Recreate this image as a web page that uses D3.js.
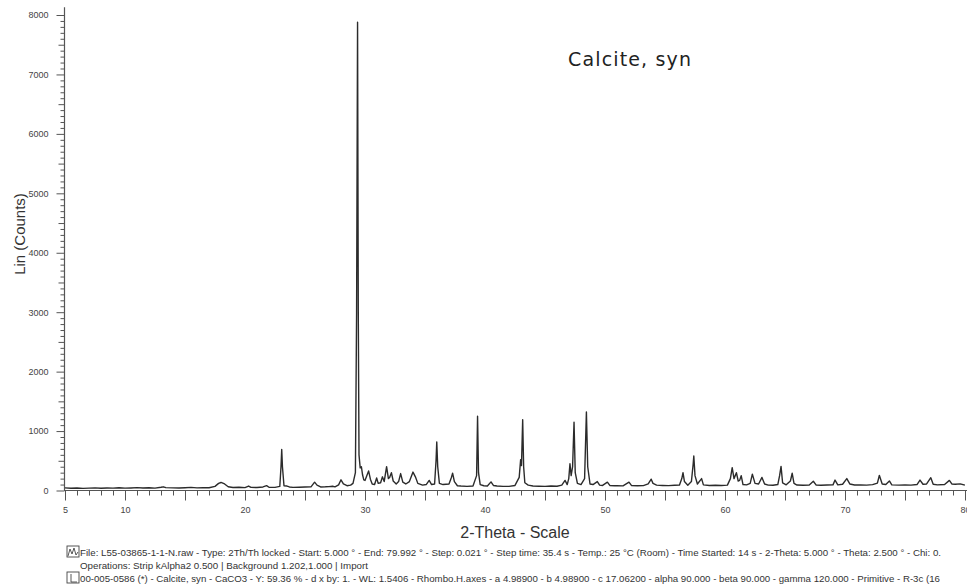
<!DOCTYPE html>
<html>
<head>
<meta charset="utf-8">
<script src="https://cdn.jsdelivr.net/npm/d3@7/dist/d3.min.js"></script>
<style>
  html, body { margin: 0; padding: 0; background: #fff; }
  svg { display: block; }
</style>
</head>
<body>
<svg id="chart" width="967" height="588"></svg>
<script>
// Diffractogram trace: 2-theta (degrees) and intensity (counts) vertices
const twoTheta = [
  5.0, 5.5, 6.0, 6.5, 7.0, 7.5, 8.0, 8.5, 9.0, 9.5, 10.0, 10.5, 11.0, 11.5, 12.0, 12.5,
  13.0, 13.2, 13.4, 14.0, 14.5, 15.0, 15.5, 16.0, 16.5, 17.0, 17.5, 17.8, 18.0, 18.3, 18.6,
  19.0, 19.5, 20.0, 20.3, 20.5, 21.0, 21.5, 21.8, 22.0, 22.5, 22.9, 23.0, 23.06, 23.12, 23.25,
  23.5, 23.7, 24.0, 24.5, 25.0, 25.5, 25.8, 26.0, 26.3, 26.7, 27.0, 27.3, 27.5, 27.8, 28.0,
  28.2, 28.5, 28.8, 29.0, 29.2, 29.3, 29.38, 29.44, 29.5, 29.6, 29.7, 29.8, 29.9, 30.0, 30.15,
  30.3, 30.45, 30.6, 30.8, 30.97, 31.1, 31.3, 31.45, 31.6, 31.8, 31.95, 32.05, 32.2, 32.35,
  32.6, 32.8, 32.97, 33.15, 33.4, 33.7, 34.0, 34.2, 34.4, 34.8, 35.1, 35.35, 35.55, 35.8,
  35.92, 35.98, 36.06, 36.2, 36.5, 37.0, 37.2, 37.3, 37.45, 37.7, 38.0, 38.5, 39.0, 39.3,
  39.38, 39.46, 39.6, 39.9, 40.2, 40.5, 40.7, 41.0, 41.5, 42.0, 42.5, 42.85, 42.97, 43.04,
  43.14, 43.22, 43.32, 43.6, 44.0, 44.5, 45.0, 45.5, 46.0, 46.4, 46.67, 46.85, 46.98, 47.08,
  47.18, 47.3, 47.42, 47.52, 47.7, 48.0, 48.3, 48.45, 48.56, 48.75, 49.0, 49.36, 49.55, 49.8,
  50.2, 50.4, 50.8, 51.0, 51.5, 52.0, 52.2, 52.7, 53.2, 53.6, 53.85, 54.0, 54.3, 54.8, 55.3,
  55.8, 56.2, 56.4, 56.5, 56.62, 56.9, 57.2, 57.35, 57.4, 57.5, 57.7, 58.05, 58.2, 58.7,
  59.2, 59.7, 60.2, 60.45, 60.6, 60.75, 60.95, 61.1, 61.22, 61.35, 61.5, 61.8, 62.1, 62.28,
  62.5, 62.8, 63.08, 63.3, 63.6, 64.0, 64.4, 64.55, 64.67, 64.8, 65.1, 65.45, 65.6, 65.75,
  66.0, 66.5, 67.0, 67.36, 67.6, 68.0, 68.5, 69.0, 69.17, 69.4, 69.8, 70.15, 70.4, 70.8,
  71.3, 71.8, 72.3, 72.7, 72.86, 73.1, 73.4, 73.7, 73.9, 74.5, 75.0, 75.5, 76.0, 76.25, 76.5,
  76.8, 77.15, 77.35, 77.7, 78.3, 78.7, 78.9, 79.2, 79.6, 79.99
];
const counts = [
  45, 38, 42, 36, 40, 44, 38, 42, 40, 46, 40, 43, 48, 42, 46, 40,
  55, 62, 48, 44, 42, 46, 52, 44, 48, 47, 70, 120, 135, 110, 62,
  50, 55, 48, 75, 52, 50, 60, 82, 55, 52, 70, 400, 690, 400, 80,
  75, 60, 52, 55, 58, 62, 140, 90, 60, 62, 65, 72, 62, 95, 180,
  110, 80, 90, 120, 300, 3000, 7880, 3000, 600, 380, 400, 260, 180, 170, 250,
  330, 190, 110, 100, 210, 120, 130, 230, 150, 400, 200, 220, 300, 160,
  110, 150, 285, 140, 110, 150, 310, 230, 120, 90, 100, 170, 100, 110,
  500, 815, 400, 120, 100, 110, 220, 290, 150, 80, 75, 70, 75, 250,
  1250, 300, 100, 80, 75, 145, 85, 75, 70, 70, 85, 220, 520, 420,
  1190, 400, 130, 90, 75, 72, 70, 75, 72, 90, 170, 100, 200, 450,
  250, 400, 1150, 300, 120, 100, 200, 1320, 400, 110, 100, 150, 90, 85,
  140, 85, 80, 82, 78, 140, 85, 80, 82, 110, 190, 120, 90, 85, 82,
  88, 90, 200, 300, 150, 90, 150, 450, 580, 250, 110, 200, 95, 85,
  88, 85, 90, 200, 385, 200, 300, 160, 170, 250, 100, 95, 120, 275,
  120, 110, 220, 110, 90, 88, 100, 250, 405, 130, 95, 160, 290, 120,
  92, 88, 90, 155, 90, 88, 92, 95, 175, 95, 105, 200, 110, 92,
  95, 90, 98, 125, 255, 110, 100, 160, 95, 90, 92, 90, 100, 175, 105,
  110, 215, 105, 95, 100, 170, 110, 105, 112, 90
];

// Axis ticks
const xTickLabels = [5, 10, 20, 30, 40, 50, 60, 70, 80];
const yTickLabels = [0, 1000, 2000, 3000, 4000, 5000, 6000, 7000, 8000];

// Texts
const peakLabel = "Calcite, syn";
const xTitle = "2-Theta - Scale";
const yTitle = "Lin (Counts)";
const infoLines = [
  "File: L55-03865-1-1-N.raw - Type: 2Th/Th locked - Start: 5.000 ° - End: 79.992 ° - Step: 0.021 ° - Step time: 35.4 s - Temp.: 25 °C (Room) - Time Started: 14 s - 2-Theta: 5.000 ° - Theta: 2.500 ° - Chi: 0.",
  "Operations: Strip kAlpha2 0.500 | Background 1.202,1.000 | Import",
  "00-005-0586 (*) - Calcite, syn - CaCO3 - Y: 59.36 % - d x by: 1. - WL: 1.5406 - Rhombo.H.axes - a 4.98900 - b 4.98900 - c 17.06200 - alpha 90.000 - beta 90.000 - gamma 120.000 - Primitive - R-3c (16"
];

const svg = d3.select("#chart");
const axisColor = "#555";
const textColor = "#444";

const x = d3.scaleLinear().domain([5, 80]).range([65, 965]);
const y = d3.scaleLinear().domain([0, 8000]).range([490.5, 15]);

// y axis line reaching a bit above the top tick
svg.append("line")
  .attr("x1", 64.5).attr("x2", 64.5)
  .attr("y1", y(8130)).attr("y2", y(0))
  .attr("stroke", axisColor).attr("stroke-width", 1.2);

// y minor ticks every 100, medium every 500
const yMinor = d3.range(0, 8001, 100).filter(v => v % 1000 !== 0);
svg.append("g")
  .attr("transform", "translate(64.5,0)")
  .call(d3.axisLeft(y).tickValues(yMinor).tickFormat("")
    .tickSize(4).tickSizeOuter(0))
  .call(g => g.select(".domain").remove())
  .call(g => g.selectAll(".tick line")
    .attr("stroke", axisColor)
    .attr("x2", d => d % 500 === 0 ? -6 : -4));

// y major ticks with labels
svg.append("g")
  .attr("transform", "translate(64.5,0)")
  .call(d3.axisLeft(y).tickValues(yTickLabels).tickFormat(d3.format("d"))
    .tickSize(8).tickPadding(8).tickSizeOuter(0))
  .call(g => g.select(".domain").remove())
  .call(g => g.selectAll(".tick line").attr("stroke", axisColor))
  .call(g => g.selectAll(".tick text")
    .attr("fill", textColor)
    .style("font-family", "'Liberation Sans', Arial, sans-serif")
    .style("font-size", "9px"));

// x axis line
svg.append("line")
  .attr("x1", 64).attr("x2", 967)
  .attr("y1", y(0)).attr("y2", y(0))
  .attr("stroke", axisColor).attr("stroke-width", 1.2);

// x ticks every degree, longer every 5 degrees
const xMinor = d3.range(5, 81, 1);
svg.append("g")
  .attr("transform", `translate(0,${y(0)})`)
  .call(d3.axisBottom(x).tickValues(xMinor).tickFormat("").tickSizeOuter(0))
  .call(g => g.select(".domain").remove())
  .call(g => g.selectAll(".tick line")
    .attr("stroke", axisColor)
    .attr("y2", d => d % 5 === 0 ? 10 : 5));

svg.append("g")
  .attr("transform", `translate(0,${y(0)})`)
  .call(d3.axisBottom(x).tickValues(xTickLabels).tickSize(0).tickPadding(16).tickSizeOuter(0))
  .call(g => g.select(".domain").remove())
  .call(g => g.selectAll(".tick text")
    .attr("fill", textColor)
    .style("font-family", "'Liberation Sans', Arial, sans-serif")
    .style("font-size", "9px"));

// diffraction trace
const points = twoTheta.map((t, i) => [t, counts[i]]);
svg.append("path")
  .datum(points)
  .attr("fill", "none")
  .attr("stroke", "#2b2b2b")
  .attr("stroke-width", 1.4)
  .attr("stroke-linejoin", "round")
  .attr("d", d3.line().x(d => x(d[0])).y(d => y(d[1])));

// phase label
svg.append("text")
  .attr("x", 568).attr("y", 66)
  .attr("fill", "#222")
  .attr("textLength", 123)
  .attr("lengthAdjust", "spacing")
  .style("font-family", "'DejaVu Sans', sans-serif")
  .style("font-size", "19px")
  .text(peakLabel);

// axis titles
svg.append("text")
  .attr("transform", `translate(25,${234}) rotate(-90)`)
  .attr("text-anchor", "middle")
  .attr("fill", "#333")
  .style("font-family", "'Liberation Sans', Arial, sans-serif")
  .style("font-size", "15px")
  .text(yTitle);

svg.append("text")
  .attr("x", 515).attr("y", 538)
  .attr("text-anchor", "middle")
  .attr("fill", "#333")
  .style("font-family", "'Liberation Sans', Arial, sans-serif")
  .style("font-size", "16px")
  .text(xTitle);

// info block
const infoY = [556, 569, 582];
const infoEnd = [941, 368, 940];
infoLines.forEach((t, i) => {
  svg.append("text")
    .attr("x", 80).attr("y", infoY[i])
    .attr("fill", "#333")
    .attr("textLength", infoEnd[i] - 80)
    .attr("lengthAdjust", "spacingAndGlyphs")
    .style("font-family", "'Liberation Sans', Arial, sans-serif")
    .style("font-size", "9.5px")
    .text(t);
});

// scan icon
const icon1 = svg.append("g").attr("transform", `translate(67,${infoY[0] - 10})`);
icon1.append("rect").attr("width", 12).attr("height", 11)
  .attr("fill", "none").attr("stroke", "#444").attr("stroke-width", 0.9);
icon1.append("path").attr("d", "M1,10 L3,3 L5,8 L7,2 L9,9 L11,6")
  .attr("fill", "none").attr("stroke", "#444").attr("stroke-width", 0.9);

// reference pattern icon
const icon3 = svg.append("g").attr("transform", `translate(67,${infoY[2] - 10})`);
icon3.append("rect").attr("width", 12).attr("height", 11)
  .attr("fill", "none").attr("stroke", "#444").attr("stroke-width", 0.9);
icon3.append("path").attr("d", "M4,2 L4,10 M4,10 L10,10")
  .attr("fill", "none").attr("stroke", "#444").attr("stroke-width", 0.9);
</script>
</body>
</html>
